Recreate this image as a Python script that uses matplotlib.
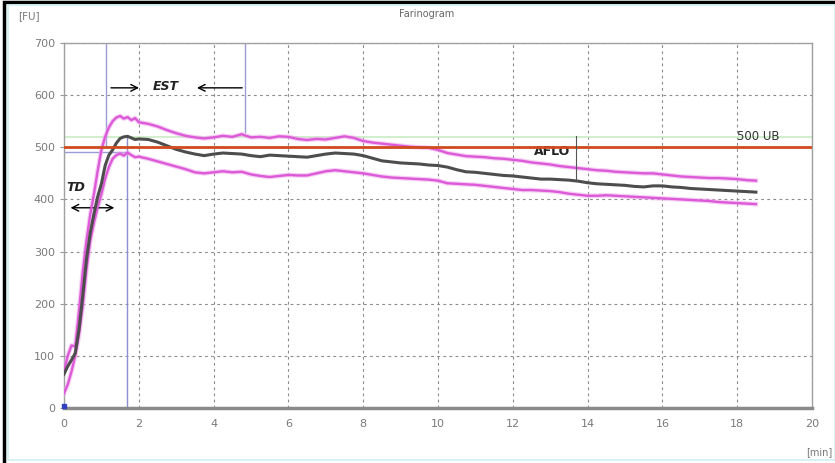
import matplotlib
matplotlib.use("Agg")
import matplotlib.pyplot as plt
from matplotlib.patches import Rectangle

# --- data -------------------------------------------------------------
time_min = [0, 0.1, 0.2, 0.3, 0.4, 0.5, 0.6, 0.7, 0.8, 0.9, 1.0, 1.1, 1.2, 1.3,
            1.4, 1.5, 1.6, 1.7, 1.8, 1.9, 2.0,
            2.25, 2.5, 2.75, 3.0, 3.25, 3.5, 3.75, 4.0, 4.25, 4.5, 4.75, 5.0,
            5.25, 5.5, 5.75, 6.0, 6.25, 6.5, 6.75, 7.0, 7.25, 7.5, 7.75, 8.0,
            8.25, 8.5, 8.75, 9.0, 9.25, 9.5, 9.75, 10.0, 10.25, 10.5, 10.75, 11.0,
            11.25, 11.5, 11.75, 12.0, 12.25, 12.5, 12.75, 13.0, 13.25, 13.5, 13.75,
            14.0, 14.25, 14.5, 14.75, 15.0, 15.25, 15.5, 15.75, 16.0, 16.25, 16.5,
            16.75, 17.0, 17.25, 17.5, 17.75, 18.0, 18.25, 18.5]

mean_fu = [65, 80, 92, 105, 150, 215, 285, 335, 372, 405, 430, 465, 485, 495,
           508, 517, 520, 521, 518, 515, 516,
           515, 510, 503, 496, 491, 487, 484, 487, 489, 488, 487, 484,
           482, 485, 484, 483, 482, 481, 484, 487, 489, 488, 487, 484,
           479, 474, 472, 470, 469, 468, 466, 465, 462, 457, 453, 452,
           450, 448, 446, 445, 443, 441, 439, 439, 438, 437, 435,
           432, 430, 429, 428, 427, 425, 424, 426, 426, 424, 423,
           421, 420, 419, 418, 417, 416, 415, 414]

upper_fu = [70, 100, 120, 118, 185, 260, 320, 370, 410, 455, 495, 520, 538, 550,
            557, 560, 555, 558, 552, 556, 548,
            545, 540, 533, 527, 522, 519, 517, 519, 522, 520, 525, 519,
            520, 518, 521, 520, 516, 514, 516, 515, 518, 521, 518, 512,
            509, 507, 505, 503, 501, 500, 499, 495, 489, 486, 483, 482,
            481, 479, 478, 476, 474, 471, 469, 467, 464, 462, 460,
            458, 456, 455, 453, 452, 451, 450, 450, 448, 446, 444,
            443, 442, 441, 441, 440, 439, 437, 436]

lower_fu = [28, 45, 70, 100, 140, 195, 265, 320, 355, 385, 410, 440, 462, 478,
            485, 488, 484, 490, 485, 481, 482,
            478, 473, 468, 463, 458, 452, 450, 452, 454, 452, 453, 448,
            445, 443, 445, 447, 446, 446, 450, 454, 456, 454, 452, 450,
            447, 444, 442, 441, 440, 439, 438, 436, 431, 430, 429, 428,
            426, 424, 422, 420, 418, 418, 417, 416, 414, 411, 409,
            407, 407, 408, 407, 406, 405, 404, 403, 402, 401, 400,
            399, 398, 397, 395, 394, 393, 392, 391]

x_ticks = [0, 2, 4, 6, 8, 10, 12, 14, 16, 18, 20]
y_ticks = [0, 100, 200, 300, 400, 500, 600, 700]

consistency_fu = 500      # target line "500 UB"
tolerance_fu = 520        # upper tolerance guide
dev_time = 1.68           # development time
est_start, est_end = 1.12, 4.84
aflo_time = 13.7

# --- figure -----------------------------------------------------------
fig = plt.figure(figsize=(8.35, 4.63), dpi=100)
fig.patch.set_facecolor("white")

# window frame
fig.add_artist(Rectangle((0.0045, -0.01), 1.2, 1.0055, transform=fig.transFigure,
                         fill=False, edgecolor="black", linewidth=2.5))
fig.add_artist(Rectangle((0.0095, 0.006), 0.99, 0.984, transform=fig.transFigure,
                         fill=False, edgecolor="#cfeff2", linewidth=1.2))

ax = fig.add_axes([64 / 835, 1 - 408 / 463, (812 - 64) / 835, (408 - 43) / 463])
ax.set_xlim(0, 20)
ax.set_ylim(0, 700)
ax.set_xticks(x_ticks)
ax.set_yticks(y_ticks)
ax.tick_params(axis="both", labelsize=8, labelcolor="#7a7a7a", color="#999999",
               length=3)
ax.tick_params(axis="x", length=0, pad=8)
for side in ("left", "right", "top"):
    ax.spines[side].set_color("#a0a0a0")
    ax.spines[side].set_linewidth(1.0)
ax.spines["bottom"].set_color("#8a8a8a")
ax.spines["bottom"].set_linewidth(2.5)
ax.grid(True, color="#8c8c8c", linestyle=(0, (2.5, 3)), linewidth=0.8)
ax.set_axisbelow(True)

# guide lines
ax.axhline(tolerance_fu, color="#c9ecc4", linewidth=1.2, zorder=2)
ax.plot([est_start, est_start], [500, 700], color="#9b9bd6", linewidth=1.0, zorder=2)
ax.plot([est_end, est_end], [529, 700], color="#9b9bd6", linewidth=1.0, zorder=2)
ax.plot([dev_time, dev_time], [0, 518], color="#8e8ed0", linewidth=1.0, zorder=2)
ax.plot([0, dev_time], [491, 491], color="#9b9bd6", linewidth=1.0, zorder=2)

# curves
pink = "#dc5ad8"
for series in (upper_fu, lower_fu):
    ax.plot(time_min, series, color="#f0a8ec", linewidth=3.4, alpha=0.55, zorder=3)
    ax.plot(time_min, series, color=pink, linewidth=1.7, zorder=4)
ax.plot(time_min, mean_fu, color="#4d4d4d", linewidth=2.2, zorder=5)

ax.axhline(consistency_fu, color="#cf4b1d", linewidth=2.0, zorder=6)
ax.plot([aflo_time, aflo_time], [435, 522], color="#555555", linewidth=0.8, zorder=6)
ax.plot([0.0], [3], marker="s", markersize=3, color="#3040c0", zorder=7,
        clip_on=False)

# annotations
arrow_kw = dict(arrowstyle="->", color="black", linewidth=1.0, mutation_scale=12)
ax.annotate("", xy=(2.08, 614), xytext=(1.18, 614), arrowprops=arrow_kw)
ax.annotate("", xy=(3.48, 614), xytext=(4.84, 614), arrowprops=arrow_kw)
ax.text(2.73, 617, "EST", fontsize=9, fontweight="bold", fontstyle="italic",
        ha="center", va="center", color="#222222")
ax.annotate("", xy=(1.42, 384), xytext=(0.1, 384),
            arrowprops=dict(arrowstyle="<->", color="black", linewidth=1.0,
                            mutation_scale=12))
ax.text(0.32, 423, "TD", fontsize=9, fontweight="bold", fontstyle="italic",
        ha="center", va="center", color="#222222")
ax.text(13.05, 492, "AFLO", fontsize=9, fontweight="bold", ha="center",
        va="center", color="#222222")
ax.text(18.55, 521, "500 UB", fontsize=8.5, ha="center", va="center",
        color="#333333")

fig.text(18 / 835, 1 - 16 / 463, "[FU]", fontsize=7.5, color="#777777",
         ha="left", va="center")
fig.text(427 / 835, 1 - 14 / 463, "Farinogram", fontsize=7, color="#666666",
         ha="center", va="center")
fig.text(832 / 835, 1 - 452 / 463, "[min]", fontsize=7, color="#777777",
         ha="right", va="center")

fig.savefig("out.png", dpi=100)
